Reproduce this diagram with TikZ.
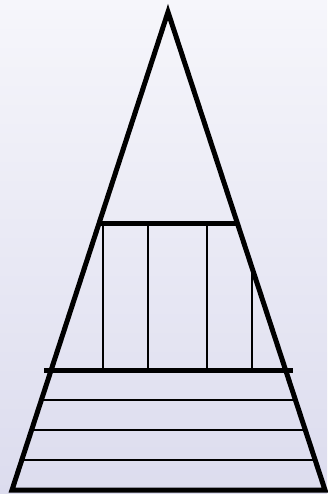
\documentclass[tikz,border=0pt]{standalone}
\usetikzlibrary{calc}
\definecolor{bgtop}{RGB}{246,246,251}
\definecolor{bgbot}{RGB}{220,220,238}
\tikzset{
  thickline/.style={line width=5pt, black},
  thinline/.style={line width=1.8pt, black},
  vline/.style={line width=1.6pt, black}
}
\begin{document}
\begin{tikzpicture}[x=1pt,y=-1pt]
\shade[top color=bgtop, bottom color=bgbot] (0,0) rectangle (327,494);
\useasboundingbox (0,0) rectangle (327,494);
\coordinate (A) at (168,12);
\coordinate (L) at (12,490);
\coordinate (R) at (325,490);
% verticals clipped to triangle
\begin{scope}
\clip (A) -- (L) -- (R) -- cycle;
\foreach \x in {103,148,207,252} {
  \draw[vline] (\x,224) -- (\x,370);
}
\end{scope}
% thin horizontal lines
\foreach \y in {400,430,460} {
  \pgfmathsetmacro{\t}{(\y-12)/478}
  \draw[thinline] ($(A)!\t!(L)$) -- ($(A)!\t!(R)$);
}
% thick horizontal lines
\pgfmathsetmacro{\ta}{(224-12)/478}
\draw[thickline] ($(A)!\ta!(L)$) -- ($(A)!\ta!(R)$);
\pgfmathsetmacro{\tb}{(370-12)/478}
\draw[thickline] ($(A)!\tb!(L)+(-7,0)$) -- ($(A)!\tb!(R)+(7,0)$);
% triangle
\draw[thickline, line join=miter] (A) -- (L) -- (R) -- cycle;
\end{tikzpicture}
\end{document}
